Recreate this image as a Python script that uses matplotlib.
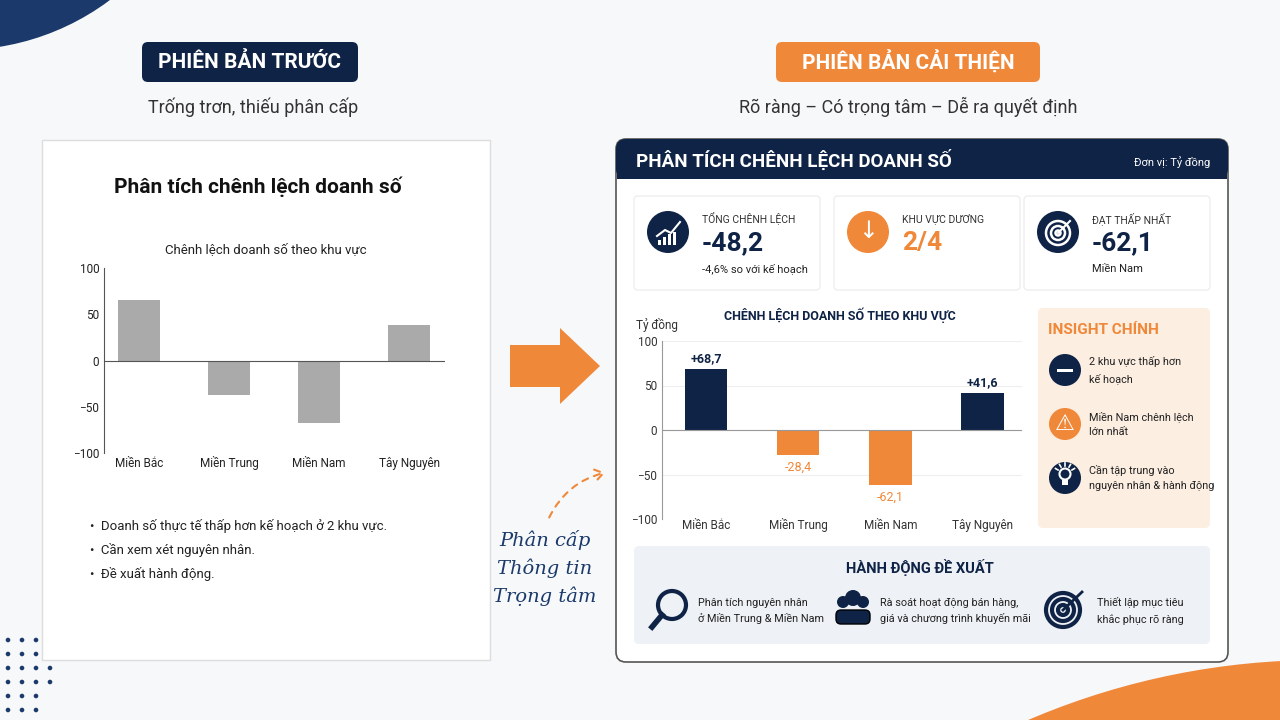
import numpy as np
import matplotlib.pyplot as plt
from matplotlib.patches import FancyBboxPatch, Circle, Rectangle, Polygon, Wedge, FancyArrowPatch

plt.rcParams['font.family'] = ['Roboto', 'DejaVu Sans']

# Dữ liệu
regions = ["Miền Bắc", "Miền Trung", "Miền Nam", "Tây Nguyên"]
old_values = [65, -37, -68, 38]
new_values = [68.7, -28.4, -62.1, 41.6]
new_labels = ["+68,7", "-28,4", "-62,1", "+41,6"]
yticks = [-100, -50, 0, 50, 100]

NAVY = "#0f2346"
ORANGE = "#f0883a"
W, H = 1280, 720

fig = plt.figure(figsize=(12.8, 7.2), dpi=100)
fig.patch.set_facecolor("#f7f8fa")
bg = fig.add_axes([0, 0, 1, 1])
bg.set_xlim(0, W)
bg.set_ylim(H, 0)
bg.axis("off")


def box(x, y, w, h, fc, ec="none", r=6, lw=1, z=1):
    bg.add_patch(FancyBboxPatch((x, y), w, h, boxstyle=f"round,pad=0,rounding_size={r}",
                                fc=fc, ec=ec, lw=lw, zorder=z))


def txt(x, y, s, size, color=NAVY, weight="normal", ha="left", va="center", **kw):
    bg.text(x, y, s, fontsize=size, color=color, weight=weight, ha=ha, va=va, **kw)


# decoration
bg.add_patch(Wedge((-40, -200), 250, 0, 90, fc="#1b3a6b", zorder=0))
bg.add_patch(Circle((1320, 1400), 740, fc=ORANGE, zorder=0))
for i in range(6):
    for j in range(5 - i // 2):
        bg.add_patch(Circle((8 + j * 14, 640 + i * 14), 2.3, fc="#1b3a6b", zorder=0))

# headers
box(142, 42, 216, 40, NAVY)
txt(250, 62, "PHIÊN BẢN TRƯỚC", 15, "white", "bold", ha="center")
txt(253, 107, "Trống trơn, thiếu phân cấp", 13, "#333333", ha="center")
box(776, 42, 264, 40, ORANGE)
txt(908, 62, "PHIÊN BẢN CẢI THIỆN", 15, "white", "bold", ha="center")
txt(908, 107, "Rõ ràng – Có trọng tâm – Dễ ra quyết định", 13, "#333333", ha="center")

# left card
bg.add_patch(Rectangle((42, 140), 448, 520, fc="white", ec="#dddddd", lw=1, zorder=1))
txt(258, 187, "Phân tích chênh lệch doanh số", 15, "#111111", "bold", ha="center")
txt(266, 250, "Chênh lệch doanh số theo khu vực", 9.5, "#222222", ha="center")
for k, s in enumerate(["Doanh số thực tế thấp hơn kế hoạch ở 2 khu vực.",
                       "Cần xem xét nguyên nhân.", "Đề xuất hành động."]):
    txt(90, 526 + k * 24, "•  " + s, 9.5, "#222222")

axl = fig.add_axes([104 / W, 1 - 453 / H, 341 / W, 185 / H])
axl.bar(np.arange(4), old_values, width=0.47, color="#aaaaaa")
axl.set_xlim(-0.39, 3.4)
axl.set_ylim(-100, 100)
axl.set_yticks(yticks)
axl.set_xticks(np.arange(4), regions)
axl.axhline(0, color="#555555", lw=0.8)
for s in ["top", "right", "bottom"]:
    axl.spines[s].set_visible(False)
axl.spines["left"].set_color("#555555")
axl.tick_params(labelsize=8.5, length=0, colors="#222222")
axl.tick_params(axis="x", pad=10)
for t in axl.get_xticklabels():
    t.set_va("baseline")
axl.patch.set_alpha(0)

# arrow
bg.add_patch(Polygon([(510, 345), (560, 345), (560, 328), (600, 366), (560, 404), (560, 387), (510, 387)],
                     fc=ORANGE, zorder=2))
bg.add_patch(FancyArrowPatch((548, 520), (608, 472), connectionstyle="arc3,rad=-0.25",
                             arrowstyle="->,head_length=6,head_width=4", color=ORANGE,
                             lw=1.5, ls=(0, (3, 3)), zorder=2))
for k, s in enumerate(["Phân cấp", "Thông tin", "Trọng tâm"]):
    txt(545, 540 + k * 28, s, 14, "#1b3a6b", ha="center", style="italic", family="DejaVu Serif")

# right card
box(616, 139, 612, 523, "white", "#555555", r=10, lw=1.2)
box(616, 139, 612, 40, NAVY, r=10, z=2)
bg.add_patch(Rectangle((617, 165), 610, 14, fc=NAVY, zorder=2))
txt(636, 160, "PHÂN TÍCH CHÊNH LỆCH DOANH SỐ", 13.5, "white", "bold", zorder=3)
txt(1210, 162, "Đơn vị: Tỷ đồng", 8, "white", ha="right", zorder=3)

# KPI cards
kpis = [(634, "TỔNG CHÊNH LỆCH", "-48,2", "-4,6% so với kế hoạch", NAVY, NAVY),
        (834, "KHU VỰC DƯƠNG", "2/4", "", ORANGE, ORANGE),
        (1024, "ĐẠT THẤP NHẤT", "-62,1", "Miền Nam", NAVY, NAVY)]
for x0, lab, val, sub, icol, vcol in kpis:
    box(x0, 196, 186, 94, "white", "#eeeeee", r=4, lw=1)
    bg.add_patch(Circle((x0 + 34, 232), 21, fc=icol, zorder=3))
    txt(x0 + 68, 219, lab, 7.5, "#333333")
    txt(x0 + 68, 243, val, 19, vcol, "bold")
    if sub:
        txt(x0 + 68, 269, sub, 8, "#222222")
# icon glyphs
for k, hgt in enumerate([5, 8, 11, 13]):
    bg.add_patch(Rectangle((658 + k * 5, 245 - hgt), 3, hgt, fc="white", zorder=4))
bg.plot([657, 665, 671, 680], [236, 230, 233, 222], color="white", lw=1.5, zorder=4)
txt(868, 231, "↓", 17, "white", ha="center", zorder=4)
for rr in [12, 7, 2.5]:
    bg.add_patch(Circle((1058, 233), rr, fc="none", ec="white", lw=1.8, zorder=4))
bg.plot([1058, 1070], [233, 221], color="white", lw=1.5, zorder=4)

# right chart
txt(840, 315, "CHÊNH LỆCH DOANH SỐ THEO KHU VỰC", 9, NAVY, "bold", ha="center")
txt(636, 325, "Tỷ đồng", 8.5, "#333333")
axr = fig.add_axes([662 / W, 1 - 519 / H, 360 / W, 178 / H])
colors = [NAVY if v > 0 else ORANGE for v in new_values]
axr.bar(np.arange(4), new_values, width=0.46, color=colors)
for i, (v, s) in enumerate(zip(new_values, new_labels)):
    axr.text(i, v + (4 if v > 0 else -6), s, ha="center", va="bottom" if v > 0 else "top",
             fontsize=9, weight="bold" if v > 0 else "normal", color=NAVY if v > 0 else ORANGE)
axr.set_xlim(-0.48, 3.43)
axr.set_ylim(-100, 100)
axr.set_yticks(yticks)
axr.set_xticks(np.arange(4), regions)
axr.yaxis.grid(True, color="#eeeeee", lw=0.8)
axr.set_axisbelow(True)
axr.axhline(0, color="#999999", lw=0.8)
for s in ["top", "right", "bottom"]:
    axr.spines[s].set_visible(False)
axr.spines["left"].set_color("#999999")
axr.tick_params(labelsize=8.5, length=0, colors="#333333")
axr.tick_params(axis="x", pad=7)
for t in axr.get_xticklabels():
    t.set_va("baseline")
axr.patch.set_alpha(0)

# insight panel
box(1038, 308, 172, 220, "#fdeee2", r=5)
txt(1048, 330, "INSIGHT CHÍNH", 11, ORANGE, "bold")
ins = [("2 khu vực thấp hơn\nkế hoạch", NAVY), ("Miền Nam chênh lệch\nlớn nhất", ORANGE),
       ("Cần tập trung vào\nnguyên nhân & hành động", NAVY)]
for k, (s, c) in enumerate(ins):
    yc = 370 + k * 54
    bg.add_patch(Circle((1065, yc), 16, fc=c, zorder=3))
    txt(1089, yc, s, 7.8, "#222222", linespacing=1.6)
bg.add_patch(Rectangle((1057, 368.5), 16, 3.5, fc="white", zorder=4))
txt(1065, 424, "⚠", 16, "white", ha="center", zorder=4, family="DejaVu Sans")
# light bulb
bg.add_patch(Circle((1065, 474), 5.5, fc="none", ec="white", lw=1.5, zorder=4))
bg.add_patch(Rectangle((1062, 480), 6, 5, fc="white", zorder=4))
for a in np.deg2rad([-150, -120, -90, -60, -30]):
    bg.plot([1065 + 8 * np.cos(a), 1065 + 11 * np.cos(a)],
            [474 + 8 * np.sin(a), 474 + 11 * np.sin(a)], color="white", lw=1.2, zorder=4)

# actions panel
box(634, 546, 576, 98, "#eef1f5", r=5)
txt(920, 568, "HÀNH ĐỘNG ĐỀ XUẤT", 10.5, NAVY, "bold", ha="center")
acts = [(698, "Phân tích nguyên nhân\nở Miền Trung & Miền Nam"),
        (880, "Rà soát hoạt động bán hàng,\ngiá và chương trình khuyến mãi"),
        (1097, "Thiết lập mục tiêu\nkhắc phục rõ ràng")]
for x0, s in acts:
    txt(x0, 611, s, 7.8, "#222222", linespacing=1.6)
bg.add_patch(Circle((672, 605), 14, fc="none", ec=NAVY, lw=3, zorder=3))
bg.plot([662, 652], [615, 627], color=NAVY, lw=4, zorder=3)
for cx, cy, r in [(843, 602, 6), (863, 602, 6), (853, 598, 8)]:
    bg.add_patch(Circle((cx, cy), r, fc=NAVY, zorder=3))
bg.add_patch(FancyBboxPatch((836, 610), 34, 14, boxstyle="round,pad=0,rounding_size=5", fc=NAVY, zorder=3))
for rr in [17, 11, 5]:
    bg.add_patch(Circle((1063, 610), rr, fc="none", ec=NAVY, lw=3, zorder=3))
bg.plot([1063, 1082], [610, 592], color=NAVY, lw=2, zorder=3)

fig.savefig("out.png", dpi=100, facecolor=fig.get_facecolor())
